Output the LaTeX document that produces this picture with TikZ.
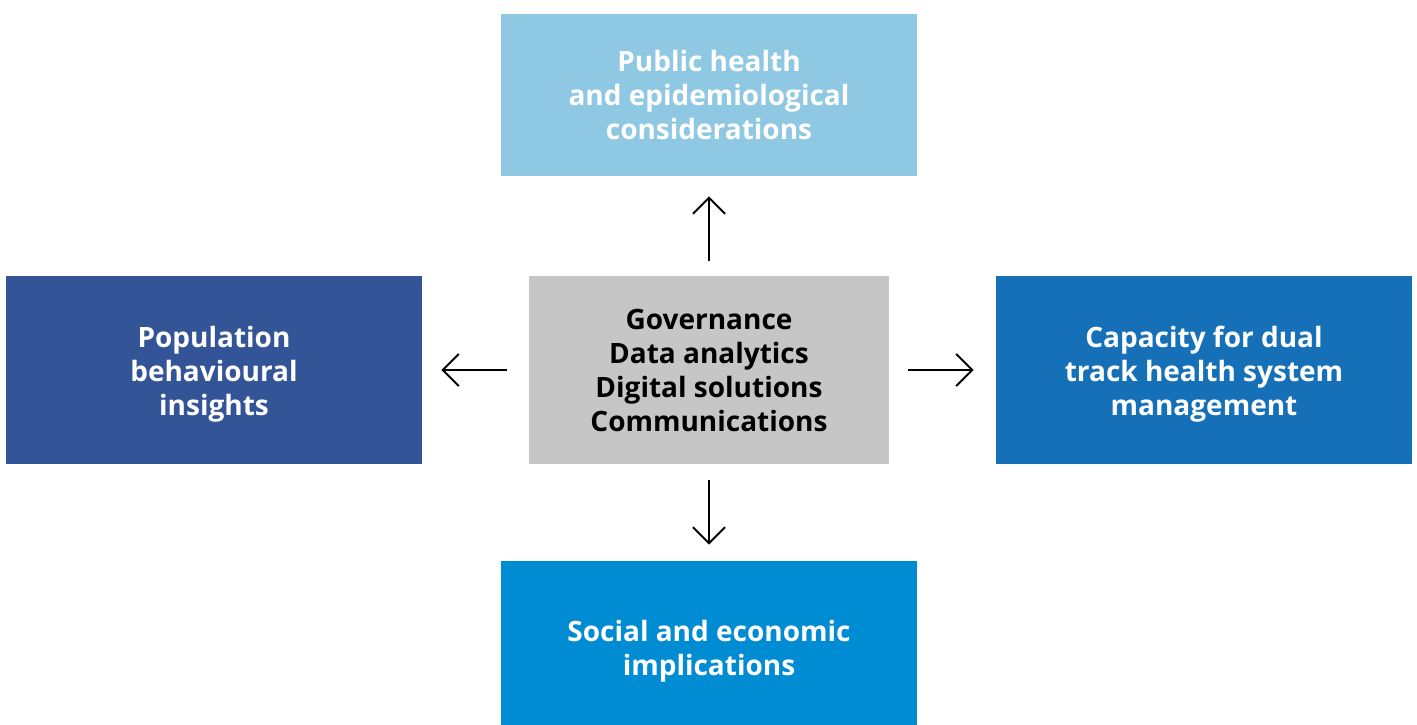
\documentclass[tikz,border=0pt]{standalone}
\usepackage{fontspec}
\setmainfont{Open Sans}
\usetikzlibrary{arrows.meta,positioning}

\definecolor{toplight}{HTML}{8EC8E2}
\definecolor{leftdark}{HTML}{335496}
\definecolor{rightmid}{HTML}{1670B8}
\definecolor{bottommid}{HTML}{008CD2}
\definecolor{centregrey}{HTML}{C6C6C6}

\begin{document}
\begin{tikzpicture}[x=0.5pt, y=-0.5pt,
  boxtext/.style={align=center, font=\bfseries\fontsize{14}{17}\selectfont,
              text=white, inner sep=0pt},
  box/.style={minimum width=208pt, minimum height=94pt, inner sep=0pt,
              boxtext},
  conn/.style={-{Straight Barb[length=8pt,width=16pt]}, line width=1pt}]
  \useasboundingbox (0,0) rectangle (1417,724);

  \node[box, fill=centregrey, text=black, minimum width=180pt]
                 (core)   at ( 709, 370) {Governance\\Data analytics\\Digital solutions\\Communications};
  \node[box, fill=toplight, minimum height=81pt]
                 (public) at ( 709,  95) {Public health\\and epidemiological\\considerations};
  \node[box, fill=leftdark,
        label={[boxtext, yshift=-2pt]center:Population\\behavioural\\insights}]
                 (popul)  at ( 214, 370) {};
  \node[box, fill=rightmid,
        label={[boxtext, yshift=-2pt]center:Capacity for dual\\track health system\\management}]
                 (capac)  at (1204, 370) {};
  % bottom box runs past the lower edge
  \node[box, fill=bottommid, minimum height=90pt]
                 (social) at ( 709, 651) {Social and economic\\implications};

  \draw[conn, shorten <=7.5pt, shorten >=10pt] (core) -- (public);
  \draw[conn, shorten <=11pt, shorten >=9.5pt] (core) -- (popul);
  \draw[conn, shorten <=9.5pt, shorten >=11pt] (core) -- (capac);
  \draw[conn, shorten <=8pt, shorten >=8pt]    (core) -- (social);
\end{tikzpicture}
\end{document}
